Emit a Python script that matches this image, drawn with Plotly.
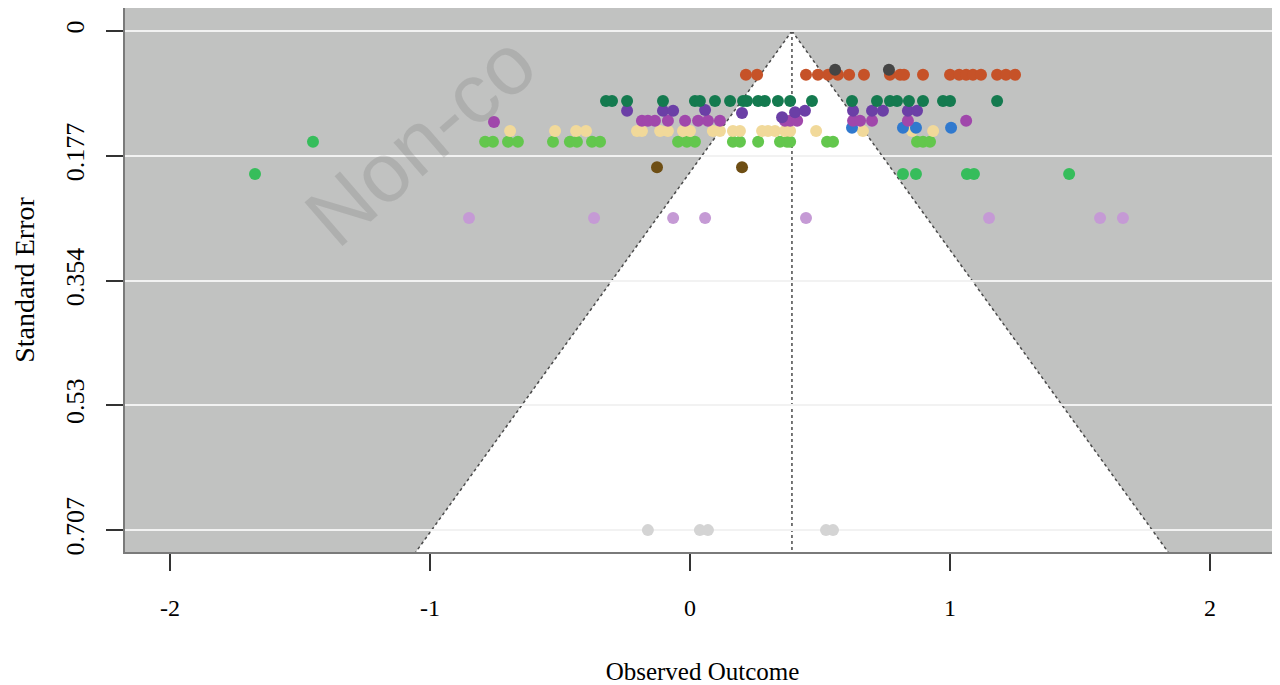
import plotly.graph_objects as go

# ---- data ----
estimate = 0.392
se_max = 0.738

orange_x = [0.215, 0.258, 0.446, 0.492, 0.531, 0.569, 0.612, 0.669, 0.769, 0.808, 0.823, 0.896,
            1.000, 1.035, 1.062, 1.088, 1.119, 1.181, 1.215, 1.250]
orange_se = [0.062] * len(orange_x)

darkgray_x = [0.558, 0.765]
darkgray_se = [0.055, 0.055]

darkgreen_x = [-0.323, -0.300, -0.242, -0.104, 0.019, 0.038, 0.096, 0.154, 0.204, 0.219, 0.262,
               0.288, 0.338, 0.385, 0.469, 0.623, 0.719, 0.769, 0.796, 0.842, 0.896, 0.973, 1.000, 1.181]
darkgreen_se = [0.099] * len(darkgreen_x)

darkpurple_x = [-0.242, -0.104, -0.065, 0.058, 0.200, 0.354, 0.404, 0.442, 0.627, 0.700, 0.742, 0.838, 0.873]
darkpurple_se = [0.113, 0.113, 0.113, 0.112, 0.116, 0.122, 0.115, 0.113, 0.113, 0.113, 0.113, 0.113, 0.113]

magenta_x = [-0.754, -0.185, -0.162, -0.135, -0.085, -0.019, 0.031, 0.069, 0.115, 0.365, 0.385, 0.412,
             0.627, 0.654, 0.700, 0.838, 1.062]
magenta_se = [0.129] + [0.127] * 16

yellow_x = [-0.692, -0.519, -0.438, -0.400, -0.204, -0.185, -0.115, -0.085, -0.027, 0.000, 0.088, 0.115,
            0.165, 0.192, 0.277, 0.300, 0.327, 0.365, 0.385, 0.485, 0.665, 0.854, 0.935]
yellow_se = [0.1416] * len(yellow_x)

lightgreen_x = [-0.788, -0.758, -0.700, -0.662, -0.527, -0.462, -0.435, -0.377, -0.346, -0.046, -0.012,
                0.019, 0.165, 0.192, 0.262, 0.346, 0.373, 0.385, 0.527, 0.550, 0.873, 0.896, 0.923]
lightgreen_se = [0.157] * len(lightgreen_x)

medgreen_x = [-1.450, -1.673, 0.819, 0.869, 1.065, 1.092, 1.458]
medgreen_se = [0.157, 0.2025, 0.2025, 0.2025, 0.2025, 0.2025, 0.2025]

brown_x = [-0.127, 0.200]
brown_se = [0.193, 0.193]

blue_x = [0.623, 0.819, 0.869, 1.004]
blue_se = [0.137] * 4

lilac_x = [-0.850, -0.369, -0.065, 0.058, 0.446, 1.150, 1.577, 1.665]
lilac_se = [0.265] * len(lilac_x)

lightgray_x = [-0.162, 0.038, 0.069, 0.523, 0.550]
lightgray_se = [0.707] * len(lightgray_x)

y_ticks = [0, 0.177, 0.354, 0.53, 0.707]
y_ticklabels = ["0", "0.177", "0.354", "0.53", "0.707"]
x_ticks = [-2, -1, 0, 1, 2]

series = [
    ("lilac", lilac_x, lilac_se, "#C59AD5"),
    ("lightgray", lightgray_x, lightgray_se, "#D4D4D4"),
    ("medgreen", medgreen_x, medgreen_se, "#36BD5B"),
    ("brown", brown_x, brown_se, "#6E4E14"),
    ("lightgreen", lightgreen_x, lightgreen_se, "#63C74D"),
    ("yellow", yellow_x, yellow_se, "#F1D99A"),
    ("blue", blue_x, blue_se, "#3079CE"),
    ("magenta", magenta_x, magenta_se, "#A047AB"),
    ("darkpurple", darkpurple_x, darkpurple_se, "#6B3FA6"),
    ("darkgreen", darkgreen_x, darkgreen_se, "#147A4F"),
    ("orange", orange_x, orange_se, "#C65228"),
    ("darkgray", darkgray_x, darkgray_se, "#454545"),
]

fig = go.Figure()
for name, xs, ses, col in series:
    fig.add_trace(go.Scatter(x=xs, y=ses, mode="markers", name=name,
                             marker=dict(color=col, size=12, line=dict(width=0)),
                             showlegend=False, hoverinfo="x+y"))

lo = estimate - 1.96 * se_max
hi = estimate + 1.96 * se_max
# white funnel region
fig.add_shape(type="path", path=f"M {lo} {se_max} L {estimate} 0 L {hi} {se_max} Z",
              fillcolor="white", line=dict(width=0), layer="below")
# funnel sides
for xe in (lo, hi):
    fig.add_shape(type="line", x0=estimate, y0=0, x1=xe, y1=se_max,
                  line=dict(color="#4A4A4A", width=1.5, dash="dot"), layer="below")
fig.add_shape(type="line", x0=estimate, y0=0, x1=estimate, y1=se_max,
              line=dict(color="#4A4A4A", width=1.5, dash="dot"), layer="below")

# figure is drawn 8px in from the page's top-left corner (body margin)
W, H = 1272, 677
L, T, B = 117, 0, 133
plot_w, plot_h = W - L, H - T - B

# watermark (center given in page pixels, converted to paper coords)
cx, cy = 420 - 8, 140 - 8
fig.add_annotation(text="Non-co", xref="paper", yref="paper",
                   x=(cx - L) / plot_w, y=(H - B - cy) / plot_h, showarrow=False,
                   xanchor="center", yanchor="middle",
                   textangle=-41, font=dict(family="Liberation Sans", size=84,
                                            color="rgba(110,110,110,0.22)"))

font_serif = "Liberation Serif"
fig.update_layout(
    width=W, height=H,
    margin=dict(l=L, r=0, t=T, b=B, autoexpand=False),
    paper_bgcolor="white", plot_bgcolor="#C1C2C1",
    font=dict(family=font_serif, color="black", size=24),
    xaxis=dict(range=[-2.173, 2.269], tickvals=x_ticks, ticktext=[str(v) for v in x_ticks],
               showgrid=False, zeroline=False, showline=True, linecolor="#7A7A7A", linewidth=1.5,
               ticks="outside", ticklen=17, tickwidth=1.5, tickcolor="#333333",
               tickfont=dict(family=font_serif, size=24), ticklabelstandoff=16,
               title=dict(text="Observed Outcome", font=dict(family=font_serif, size=25), standoff=51)),
    yaxis=dict(range=[se_max, -0.0326], tickvals=y_ticks, ticktext=y_ticklabels,
               showgrid=True, gridcolor="#F2F2F2", gridwidth=2, zeroline=False,
               showline=True, linecolor="#7A7A7A", linewidth=1.5,
               ticks="outside", ticklen=17, tickwidth=1.5, tickcolor="#333333",
               tickangle=-90, tickfont=dict(family=font_serif, size=26), ticklabelstandoff=12,
               title=dict(text="Standard Error", font=dict(family=font_serif, size=28), standoff=18)),
)

fig.write_html("out.html")
